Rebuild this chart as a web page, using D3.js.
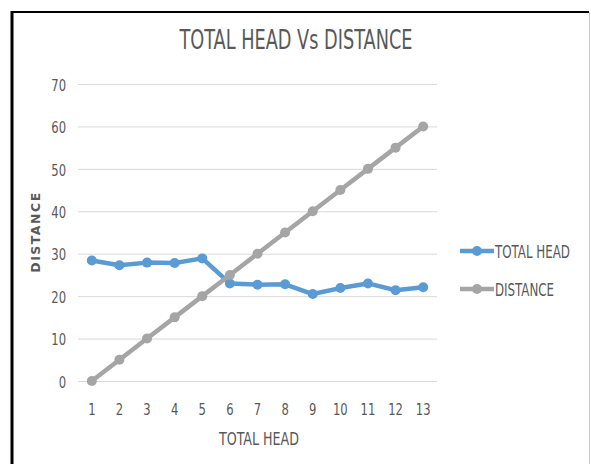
<!DOCTYPE html>
<html><head><meta charset="utf-8">
<script src="https://cdn.jsdelivr.net/npm/d3@7"></script>
<style>
body{margin:0;background:#fff;}
text{font-family:"DejaVu Sans Condensed","DejaVu Sans",sans-serif;fill:#595959;}
</style></head><body>
<svg id="c" width="591" height="464"></svg>
<script>
const categories = ["1","2","3","4","5","6","7","8","9","10","11","12","13"];
const totalHead = [28.4,27.3,27.9,27.8,28.9,23.0,22.7,22.8,20.5,21.9,23.0,21.4,22.1];
const distance = [0,5,10,15,20,25,30,35,40,45,50,55,60];
const yTicks = [0,10,20,30,40,50,60,70];
const seriesNames = ["TOTAL HEAD","DISTANCE"];
const colors = ["#5b9bd5","#a5a5a5"];

const svg = d3.select("#c");
function squeeze(sel, factor){
  sel.each(function(){
    const w = this.getComputedTextLength();
    d3.select(this).attr("textLength", w*factor).attr("lengthAdjust","spacingAndGlyphs");
  });
}
function fit(sel, width){
  sel.attr("textLength", width).attr("lengthAdjust","spacingAndGlyphs");
}
// frame
svg.append("line").attr("x1",12).attr("x2",12).attr("y1",11).attr("y2",464).attr("stroke","#000").attr("stroke-width",3);
svg.append("line").attr("x1",11).attr("x2",589).attr("y1",12).attr("y2",12).attr("stroke","#000").attr("stroke-width",2);
svg.append("line").attr("x1",589.5).attr("x2",589.5).attr("y1",12).attr("y2",464).attr("stroke","#c8c8c8").attr("stroke-width",1);

const x = d3.scaleBand().domain(categories).range([78,437]);
const y = d3.scaleLinear().domain([0,70]).range([381,84]);

// gridlines
svg.append("g").selectAll("line").data(yTicks).join("line")
  .attr("x1",78).attr("x2",437).attr("y1",d=>y(d)+0.5).attr("y2",d=>y(d)+0.5)
  .attr("stroke","#d9d9d9").attr("stroke-width",1);

// y axis
const yAxis = svg.append("g").attr("transform","translate(78,0)")
  .call(d3.axisLeft(y).tickValues(yTicks).tickSize(0).tickPadding(12));
yAxis.select(".domain").remove();
yAxis.selectAll("text").style("font-size","16.5px").attr("fill","#595959").attr("dy","0.38em");
squeeze(yAxis.selectAll("text"), 0.78);

// x axis
const xAxis = svg.append("g").attr("transform","translate(0,381)")
  .call(d3.axisBottom(x).tickSize(0).tickPadding(22));
xAxis.select(".domain").remove();
xAxis.selectAll("text").style("font-size","16.5px").attr("fill","#595959");
squeeze(xAxis.selectAll("text"), 0.78);

// titles
const t = svg.append("text").attr("x",296).attr("y",49).attr("text-anchor","middle")
  .style("font-size","26px").text("TOTAL HEAD Vs DISTANCE");
fit(t, 233);
const xt = svg.append("text").attr("x",259).attr("y",445).attr("text-anchor","middle")
  .style("font-size","18px").text("TOTAL HEAD");
fit(xt, 80);
svg.append("text").attr("transform","translate(40,232) rotate(-90)").attr("text-anchor","middle")
  .style("font-family","'DejaVu Sans',sans-serif").style("font-weight","bold").style("font-size","12.5px")
  .style("letter-spacing","1.5px").attr("fill","#404040").text("DISTANCE");

const line = d3.line().x((d,i)=>x(categories[i])+x.bandwidth()/2).y(d=>y(d));
[totalHead, distance].forEach((s,k)=>{
  const g = svg.append("g");
  g.append("path").attr("d",line(s)).attr("fill","none").attr("stroke",colors[k]).attr("stroke-width",4.5).attr("stroke-linejoin","round");
  g.selectAll("circle").data(s).join("circle")
    .attr("cx",(d,i)=>x(categories[i])+x.bandwidth()/2).attr("cy",d=>y(d)).attr("r",5).attr("fill",colors[k]);
});

// legend
const leg = svg.append("g");
const legW = [75, 59];
seriesNames.forEach((n,k)=>{
  const yy = 251 + k*38;
  leg.append("line").attr("x1",460).attr("x2",494).attr("y1",yy).attr("y2",yy).attr("stroke",colors[k]).attr("stroke-width",4.5);
  leg.append("circle").attr("cx",477).attr("cy",yy).attr("r",5).attr("fill",colors[k]);
  const tx = leg.append("text").attr("x",0).attr("y",0).style("font-size","18px").text(n);
  const w = tx.node().getComputedTextLength();
  tx.attr("transform",`translate(495,${yy+7}) scale(${legW[k]/w},1)`);
});
</script></body></html>
